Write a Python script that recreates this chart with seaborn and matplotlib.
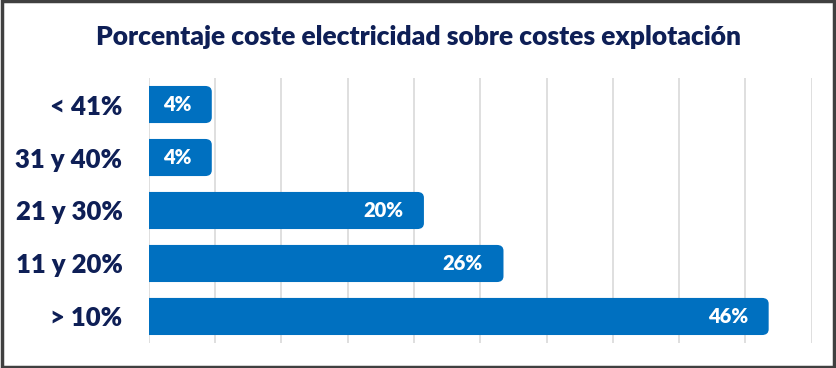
import matplotlib.pyplot as plt
import seaborn as sns
from matplotlib.patches import FancyBboxPatch, Rectangle

categorias = ["< 41%", "31 y 40%", "21 y 30%", "11 y 20%", "> 10%"]
porcentajes = [4, 4, 20, 26, 46]
etiquetas = ["4%", "4%", "20%", "26%", "46%"]

azul = "#0070C0"
navy = "#0E1F56"

sns.set_theme(style="white")
plt.rcParams['font.family'] = ['Lato', 'DejaVu Sans']

fig = plt.figure(figsize=(8.36, 3.68), dpi=100)
ax = fig.add_axes([0.178, 0.068, 0.793, 0.72])

sns.barplot(x=porcentajes, y=categorias, orient="h", color=azul, width=0.7,
            saturation=1, ax=ax)

# rounded right end only: start the box left of 0 so the left corners get clipped
cap = 0.75
for p, lab in zip(list(ax.patches), etiquetas):
    x0, y0, w, h = p.get_x(), p.get_y(), p.get_width(), p.get_height()
    p.set_visible(False)
    rb = FancyBboxPatch((x0 - 2, y0), w + 2 + cap, h,
                        boxstyle="round,pad=0,rounding_size=0.5",
                        mutation_aspect=0.22, facecolor=azul, edgecolor="none",
                        zorder=3)
    ax.add_patch(rb)
    ax.annotate(lab, (w + cap, y0 + h / 2), xytext=(-15, 0), textcoords="offset points",
                ha="right", va="center", color="white", fontsize=14.5,
                fontweight="heavy", zorder=4)

ax.set_xlim(0, 50)
ax.set_xticks(range(0, 51, 5))
ax.set_xticklabels([])
ax.grid(axis="x", color="#D9D9D9", linewidth=1.2)
ax.grid(axis="y", visible=False)
ax.set_axisbelow(True)
for s in ax.spines.values():
    s.set_visible(False)
ax.tick_params(axis="both", length=0)
ax.tick_params(axis="y", pad=19)
for t in ax.get_yticklabels():
    t.set_fontsize(18.5)
    t.set_fontweight("heavy")
    t.set_color(navy)
ax.set_xlabel("")
ax.set_ylabel("")

fig.text(0.5, 0.9, "Porcentaje coste electricidad sobre costes explotación",
         ha="center", va="center", fontsize=19, fontweight="heavy", color=navy)

fig.patches.append(Rectangle((0.002, 0.004), 0.996, 0.992, transform=fig.transFigure,
                             fill=False, edgecolor="#404040", linewidth=2.5))

plt.savefig("out.png", dpi=100)
